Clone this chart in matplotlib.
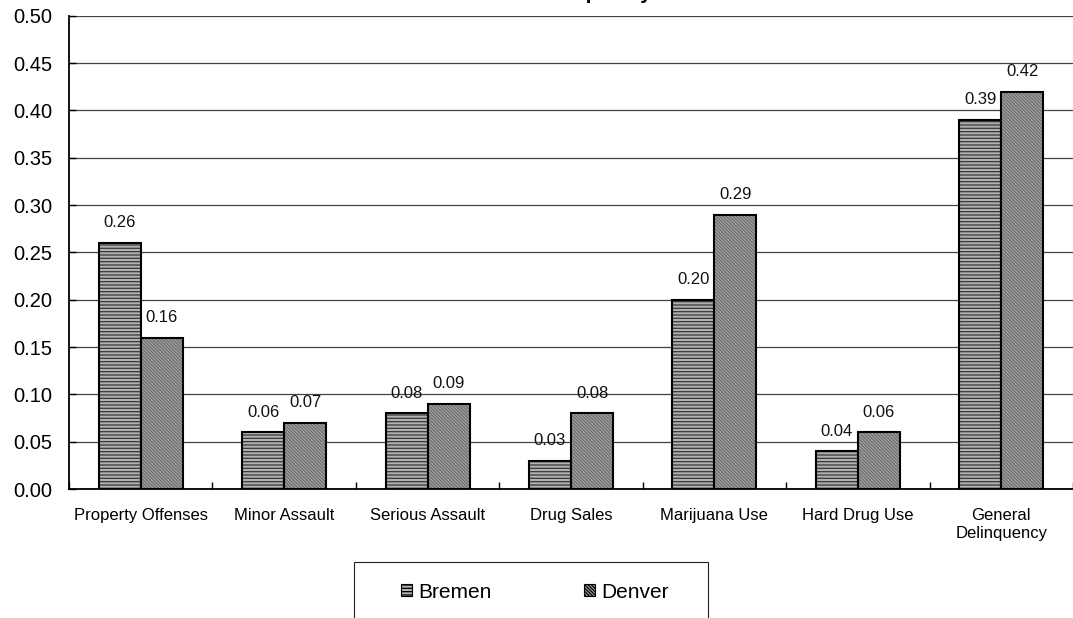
import matplotlib
matplotlib.use("Agg")
import matplotlib.pyplot as plt
from matplotlib.patches import Rectangle, Patch
import numpy as np

categories = ["Property Offenses", "Minor Assault", "Serious Assault", "Drug Sales",
              "Marijuana Use", "Hard Drug Use", "General\nDelinquency"]
bremen = [0.26, 0.06, 0.08, 0.03, 0.20, 0.04, 0.39]
denver = [0.16, 0.07, 0.09, 0.08, 0.29, 0.06, 0.42]
series_names = ["Bremen", "Denver"]
yticks = [0.00, 0.05, 0.10, 0.15, 0.20, 0.25, 0.30, 0.35, 0.40, 0.45, 0.50]

plt.rcParams["font.family"] = ["Liberation Sans", "DejaVu Sans"]
plt.rcParams["hatch.linewidth"] = 0.9

fig = plt.figure(figsize=(10.73, 6.18), dpi=100)
ax = fig.add_axes([0.0643, 0.2087, 0.9357, 0.7657])

x = np.arange(len(categories))
w = 0.293

styles = {
    "Bremen": dict(face="#b0b0b0", hatch="-----", hcol="#383838"),
    "Denver": dict(face="#a4a4a4", hatch="\\" * 10, hcol="#6e6e6e"),
}

def draw_series(pos, vals, name):
    st = styles[name]
    # hatched fill (hatch colour follows the edge colour, so no outline here)
    ax.bar(pos, vals, w, color=st["face"], hatch=st["hatch"], edgecolor=st["hcol"],
           linewidth=0, zorder=3)
    # black outline on top
    ax.bar(pos, vals, w, facecolor="none", edgecolor="black", linewidth=1.5, zorder=4)
    for xi, v in zip(pos, vals):
        ax.annotate(f"{v:.2f}", (xi, v), xytext=(0, 14.5), textcoords="offset points",
                    ha="center", va="center", fontsize=12, color="#111111", zorder=5)

draw_series(x - w / 2, bremen, "Bremen")
draw_series(x + w / 2, denver, "Denver")

ax.set_xlim(-0.5, len(categories) - 0.5)
ax.set_ylim(0, 0.5)
ax.set_yticks(yticks)
ax.set_yticklabels([f"{t:.2f}" for t in yticks], fontsize=14.5)
ax.yaxis.grid(True, color="#444444", linewidth=0.9, zorder=0)
ax.set_axisbelow(True)

ax.set_xticks(x)
ax.set_xticklabels(categories, fontsize=12, linespacing=1.25)
ax.set_xticks(np.arange(len(categories) + 1) - 0.5, minor=True)
ax.tick_params(axis="x", which="major", length=0, pad=13.5)
ax.tick_params(axis="x", which="minor", direction="in", length=5, width=1, color="black")
ax.tick_params(axis="y", direction="in", length=5, width=1, pad=12)

for s in ("top", "right"):
    ax.spines[s].set_visible(False)
for s in ("left", "bottom"):
    ax.spines[s].set_linewidth(1.3)
    ax.spines[s].set_color("black")

# chart title sits above the visible area
fig.text(0.559, 1.0 + 1.0 / 618, "Frequency", ha="center", va="baseline",
         fontsize=15, fontweight="bold")

# legend box
fig.patches.append(Rectangle((354 / 1073, 1 - 622 / 618), 354 / 1073, 60 / 618,
                             transform=fig.transFigure, facecolor="white",
                             edgecolor="#222222", linewidth=0.8, clip_on=False))
handles = [Patch(facecolor=styles[n]["face"], hatch=styles[n]["hatch"],
                 edgecolor=styles[n]["hcol"], linewidth=0) for n in series_names]
leg = fig.legend(handles, series_names, ncol=2, loc="center",
                 bbox_to_anchor=(0.4986, 1 - 592 / 618), frameon=False,
                 fontsize=15, handlelength=0.55, handleheight=0.55,
                 handletextpad=0.3, columnspacing=4.4)
for h in leg.legend_handles:
    h.set_edgecolor("black")
    h.set_linewidth(0.8)

fig.savefig("out.png", dpi=100)
